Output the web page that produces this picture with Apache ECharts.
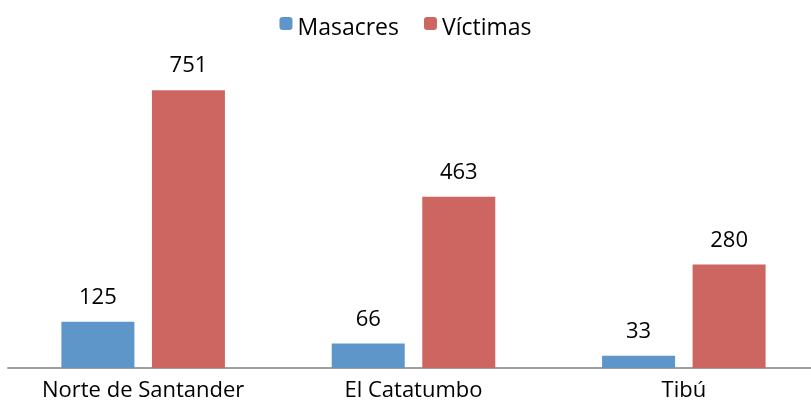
<!DOCTYPE html>
<html>
<head>
<meta charset="utf-8">
<script src="https://cdn.jsdelivr.net/npm/echarts@6/dist/echarts.min.js"></script>
<style>
  html, body { margin: 0; padding: 0; background: #fff; }
  #main { width: 811px; height: 410px; }
</style>
</head>
<body>
<div id="main"></div>
<script>
var categories = ['Norte de Santander', 'El Catatumbo', 'Tibú'];
var masacres = [125, 66, 33];
var victimas = [751, 463, 280];

var font = '"Open Sans", "Liberation Sans", sans-serif';
var myChart = echarts.init(document.getElementById('main'));
myChart.setOption({
  animation: false,
  textStyle: { fontFamily: font },
  legend: {
    top: 17,
    left: 'center',
    padding: 0,
    itemWidth: 13,
    itemHeight: 13,
    itemGap: 25,
    formatter: '{t|{name}}',
    textStyle: {
      fontSize: 23,
      color: '#000',
      rich: { t: { fontSize: 23, color: '#000', padding: [10, 0, 0, 0] } }
    },
    data: ['Masacres', 'Víctimas']
  },
  grid: { left: 8, right: -8, top: 72, bottom: 42, containLabel: false, outerBoundsMode: 'none' },
  xAxis: {
    type: 'category',
    data: categories,
    axisLine: { lineStyle: { color: '#a0a0a0', width: 2 } },
    axisTick: { show: false },
    axisLabel: { fontSize: 22, color: '#000', margin: 12 }
  },
  yAxis: {
    type: 'value',
    min: 0,
    max: 800,
    show: false,
    splitLine: { show: false }
  },
  series: [{
    name: 'Masacres',
    type: 'bar',
    data: masacres,
    barWidth: 73,
    barGap: '24%',
    itemStyle: { color: '#5f96c9' },
    label: { show: true, position: 'top', distance: 13, fontSize: 22, color: '#000' }
  }, {
    name: 'Víctimas',
    type: 'bar',
    data: victimas,
    barWidth: 73,
    barGap: '24%',
    itemStyle: { color: '#cd6660' },
    label: { show: true, position: 'top', distance: 13, fontSize: 22, color: '#000' }
  }]
});
</script>
</body>
</html>
